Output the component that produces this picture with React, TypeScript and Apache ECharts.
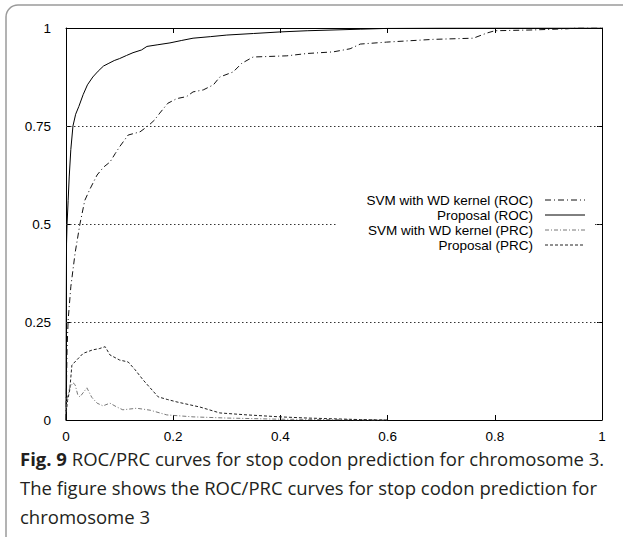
import React, { useEffect, useRef } from "react";
import * as echarts from "echarts";

// ---- data ----
const legendLabels = [
  "SVM with WD kernel (ROC)",
  "Proposal (ROC)",
  "SVM with WD kernel (PRC)",
  "Proposal (PRC)",
];

const gridLevels = [0.25, 0.75];
const brokenGridLevel = 0.5;
const brokenGridSegments = [
  [0, 0.507],
  [0.987, 1],
];

const rocSvm: number[][] = [
  [0, 0], [0.001, 0.1], [0.002, 0.18], [0.004, 0.255], [0.009, 0.34], [0.017, 0.426],
  [0.026, 0.5], [0.035, 0.56], [0.045, 0.59], [0.058, 0.625], [0.07, 0.645], [0.082, 0.658],
  [0.092, 0.68], [0.1, 0.697], [0.116, 0.727], [0.138, 0.735], [0.153, 0.75], [0.165, 0.765],
  [0.175, 0.783], [0.19, 0.808], [0.207, 0.82], [0.225, 0.825], [0.237, 0.837], [0.256, 0.842],
  [0.275, 0.855], [0.287, 0.875], [0.312, 0.888], [0.328, 0.91], [0.349, 0.926], [0.412, 0.929],
  [0.45, 0.935], [0.498, 0.939], [0.53, 0.947], [0.549, 0.959], [0.598, 0.964], [0.685, 0.971],
  [0.76, 0.974], [0.785, 0.987], [0.8, 0.993], [0.87, 0.995], [0.935, 0.998], [0.95, 1], [1, 1],
];

const rocProposal: number[][] = [
  [0, 0], [0.0005, 0.3], [0.001, 0.45], [0.002, 0.5], [0.004, 0.56], [0.006, 0.62],
  [0.009, 0.69], [0.013, 0.75], [0.018, 0.78], [0.024, 0.8], [0.032, 0.83], [0.04, 0.855],
  [0.05, 0.875], [0.06, 0.89], [0.07, 0.903], [0.08, 0.91], [0.09, 0.917], [0.1, 0.922],
  [0.113, 0.93], [0.125, 0.937], [0.141, 0.944], [0.151, 0.953], [0.17, 0.957], [0.194, 0.962],
  [0.215, 0.968], [0.237, 0.974], [0.27, 0.978], [0.3, 0.982], [0.35, 0.986], [0.4, 0.99],
  [0.45, 0.993], [0.5, 0.995], [0.55, 0.997], [0.6, 0.999], [0.7, 1], [1, 1],
];

const prcSvm: number[][] = [
  [0.0005, 0.03], [0.001, 0.05], [0.007, 0.082], [0.013, 0.095], [0.017, 0.09], [0.022, 0.064],
  [0.026, 0.059], [0.039, 0.082], [0.048, 0.058], [0.058, 0.043], [0.069, 0.036], [0.082, 0.043],
  [0.095, 0.033], [0.106, 0.026], [0.132, 0.03], [0.157, 0.025], [0.188, 0.013], [0.237, 0.008],
  [0.3, 0.005], [0.4, 0.002], [0.5, 0.001], [0.6, 0],
];

const prcProposal: number[][] = [
  [0.0005, 0.02], [0.003, 0.05], [0.007, 0.077], [0.011, 0.14], [0.02, 0.153], [0.032, 0.17],
  [0.05, 0.179], [0.062, 0.182], [0.073, 0.187], [0.082, 0.166], [0.1, 0.153], [0.116, 0.148],
  [0.129, 0.128], [0.144, 0.102], [0.157, 0.082], [0.172, 0.059], [0.19, 0.052], [0.207, 0.046],
  [0.25, 0.033], [0.287, 0.018], [0.338, 0.013], [0.4, 0.008], [0.45, 0.005], [0.5, 0.003],
  [0.55, 0.001], [0.6, 0],
];

const captionBold = "Fig. 9";
const captionLines = [
  " ROC/PRC curves for stop codon prediction for chromosome 3.",
  "The figure shows the ROC/PRC curves for stop codon prediction for",
  "chromosome 3",
];

// ---- styles ----
const seriesStyles = [
  { color: "#111", type: [6, 3, 1, 3] as number[] },
  { color: "#000", type: "solid" as any },
  { color: "#777", type: [4, 2, 1, 2] as number[] },
  { color: "#222", type: [3, 2] as number[] },
];
const FONT = "'Liberation Sans', Arial, sans-serif";
const CAPTION_FONT = "'Open Sans', sans-serif";

export default function App() {
  const ref = useRef<HTMLDivElement>(null);

  useEffect(() => {
    document.body.style.margin = "0";
    const chart = echarts.init(ref.current!, null, { renderer: "svg" });

    const gridLineData: any[] = gridLevels.map((v) => [
      { coord: [0, v] },
      { coord: [1, v] },
    ]);
    brokenGridSegments.forEach(([a, b]) =>
      gridLineData.push([{ coord: [a, brokenGridLevel] }, { coord: [b, brokenGridLevel] }])
    );

    const datasets = [rocSvm, rocProposal, prcSvm, prcProposal];

    const axisCommon = {
      type: "value" as const,
      min: 0,
      max: 1,
      axisLine: { show: true, onZero: false, lineStyle: { color: "#000", width: 1 } },
      axisTick: { show: true, inside: true, length: 5, lineStyle: { color: "#000" } },
      splitLine: { show: false },
    };

    const legendRowY = [200, 215, 230, 245];
    const legendGraphics: any[] = [];
    legendLabels.forEach((label, i) => {
      legendGraphics.push({
        type: "text",
        x: 533,
        y: legendRowY[i],
        style: {
          text: label,
          fill: "#000",
          font: `13.5px ${FONT}`,
          textAlign: "right",
          textVerticalAlign: "middle",
        },
      });
      const st = seriesStyles[i];
      legendGraphics.push({
        type: "line",
        shape: { x1: 545, y1: legendRowY[i], x2: 585, y2: legendRowY[i] },
        style: {
          stroke: st.color,
          lineWidth: 1,
          lineDash: Array.isArray(st.type) ? st.type : null,
        },
      });
    });

    const option: any = {
      animation: false,
      backgroundColor: "#fff",
      grid: { left: 66, top: 28, right: 21, bottom: 117, containLabel: false },
      xAxis: [
        {
          ...axisCommon,
          position: "bottom",
          interval: 0.2,
          axisLabel: { color: "#000", fontFamily: FONT, fontSize: 13.5, margin: 9 },
        },
        {
          ...axisCommon,
          position: "top",
          interval: 0.2,
          axisLabel: { show: false },
        },
      ],
      yAxis: [
        {
          ...axisCommon,
          position: "left",
          interval: 0.25,
          axisLabel: { color: "#000", fontFamily: FONT, fontSize: 13.5, margin: 15 },
        },
        {
          ...axisCommon,
          position: "right",
          interval: 0.25,
          axisLabel: { show: false },
        },
      ],
      series: datasets.map((d, i) => ({
        type: "line",
        name: legendLabels[i],
        data: d,
        xAxisIndex: 0,
        yAxisIndex: 0,
        showSymbol: false,
        symbol: "none",
        silent: true,
        lineStyle: { color: seriesStyles[i].color, width: 1, type: seriesStyles[i].type },
        ...(i === 0
          ? {
              markLine: {
                silent: true,
                symbol: ["none", "none"],
                label: { show: false },
                lineStyle: { type: [1.5, 2.5], color: "#333", width: 1 },
                data: gridLineData,
              },
            }
          : {}),
      })),
      graphic: [
        {
          type: "rect",
          shape: { x: 6, y: 5, width: 800, height: 800, r: 12 },
          style: { fill: "none", stroke: "#9a9a9a", lineWidth: 1.5 },
          silent: true,
        },
        ...legendGraphics,
        {
          type: "text",
          x: 20,
          y: 444,
          style: {
            text: `{b|${captionBold}}${captionLines[0]}\n${captionLines[1]}\n${captionLines[2]}`,
            font: `18.5px ${CAPTION_FONT}`,
            fill: "#231f20",
            lineHeight: 29,
            rich: {
              b: {
                font: `bold 18.5px ${CAPTION_FONT}`,
                fill: "#231f20",
                lineHeight: 29,
              },
            },
          },
        },
      ],
    };

    chart.setOption(option);
    return () => chart.dispose();
  }, []);

  return <div ref={ref} style={{ width: 623, height: 537 }} />;
}
